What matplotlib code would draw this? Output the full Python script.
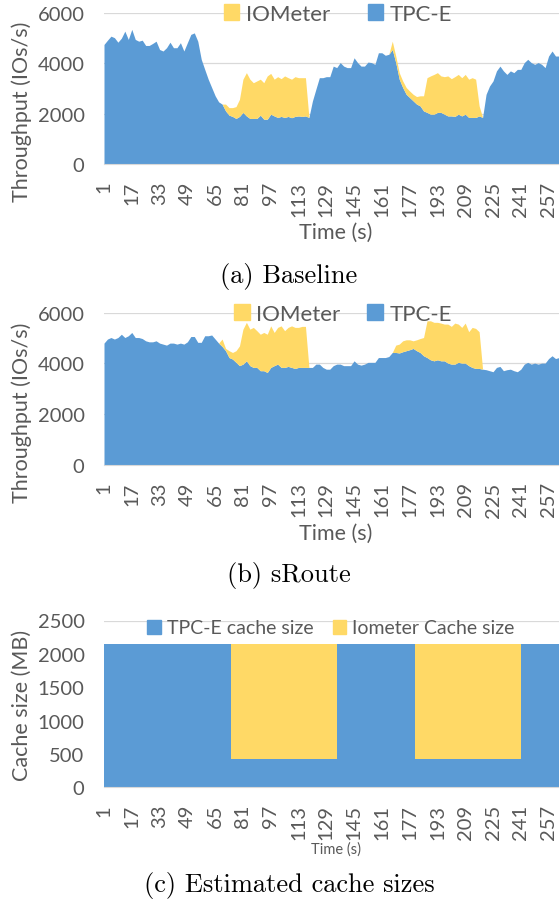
import numpy as np
import matplotlib
matplotlib.use("Agg")
import matplotlib.pyplot as plt
from matplotlib.patches import Patch

# time axis (s), read every 2 seconds off the picture
time_s = np.arange(1, 264, 2)

# (a) Baseline throughput, IOs/s
base_tpce = [4750, 4920, 5080, 5020, 4840, 5000, 5280, 4950, 5350, 4950,
             4880, 4920, 4710, 4710, 4790, 4880, 4550, 4490, 4620, 4840,
             4620, 4620, 4820, 4490, 4820, 5150, 5210, 4880, 4160, 3760,
             3370, 3040, 2710, 2470, 2380, 2110, 1940, 1890, 1810, 1890,
             2050, 1910, 1810, 1810, 1810, 1940, 1780, 1780, 1980, 1910,
             1850, 1890, 1850, 1890, 1840, 1890, 1910, 1890, 1910, 1850,
             2500, 2970, 3430, 3430, 3470, 3470, 3890, 3830, 4030, 3890,
             3830, 3830, 4220, 4030, 3890, 3890, 4050, 4030, 3960, 4420,
             4420, 4320, 4360, 4550, 4030, 3370, 3040, 2770, 2640, 2510,
             2380, 2310, 2110, 2050, 1980, 1980, 2050, 2050, 1980, 1910,
             1910, 1890, 1980, 1910, 1980, 1850, 1850, 1850, 1910, 1850,
             2770, 3100, 3300, 3700, 3890, 3700, 3560, 3700, 3630, 3760,
             3760, 4030, 4160, 4030, 3960, 4030, 3960, 3830, 4290, 4490,
             4290, 4290]
base_iometer = [0, 0, 0, 0, 0, 0, 0, 0, 0, 0,
                0, 0, 0, 0, 0, 0, 0, 0, 0, 0,
                0, 0, 0, 0, 0, 0, 0, 0, 0, 0,
                0, 0, 0, 0, 0, 270, 300, 350, 470, 680,
                1320, 1720, 1560, 1420, 1490, 1430, 1450, 1720, 1620, 1460,
                1620, 1500, 1650, 1540, 1530, 1580, 1520, 1540, 1520, 0,
                0, 0, 0, 0, 0, 0, 0, 0, 0, 0,
                0, 0, 0, 0, 0, 0, 0, 0, 0, 0,
                0, 0, 0, 330, 260, 260, 260, 270, 260, 260,
                300, 400, 600, 1380, 1520, 1580, 1580, 1450, 1490, 1590,
                1480, 1580, 1580, 1520, 1580, 1520, 1580, 1520, 400, 0,
                0, 0, 0, 0, 0, 0, 0, 0, 0, 0,
                0, 0, 0, 0, 0, 0, 0, 0, 0, 0,
                0, 0]

# (b) sRoute throughput, IOs/s
sroute_tpce = [4800, 4960, 5020, 4960, 5020, 5150, 5020, 5090, 5220, 5020,
               5020, 4980, 4890, 4850, 4850, 4890, 4800, 4760, 4720, 4800,
               4800, 4760, 4800, 4760, 4850, 5060, 5060, 4830, 4830, 5090,
               5090, 5120, 4960, 4800, 4670, 4500, 4230, 4170, 4040, 3910,
               3970, 4100, 3910, 3840, 3840, 3710, 3710, 3640, 3840, 3910,
               3970, 3840, 3840, 3880, 3840, 3800, 3840, 3840, 3840, 3840,
               3840, 3970, 3970, 3840, 3770, 3770, 3910, 3970, 3970, 3910,
               3910, 3910, 4100, 3970, 3930, 3970, 4040, 4040, 4040, 4230,
               4230, 4230, 4270, 4430, 4430, 4410, 4460, 4500, 4540, 4590,
               4500, 4430, 4300, 4230, 4140, 4100, 4140, 4100, 4100, 4010,
               3970, 3970, 4040, 4010, 4010, 3910, 3840, 3800, 3800, 3770,
               3750, 3710, 3670, 3840, 3880, 3710, 3750, 3770, 3710, 3670,
               3770, 3970, 4040, 3970, 4010, 3970, 4010, 4010, 4190, 4300,
               4190, 4230]
sroute_iometer = [0, 0, 0, 0, 0, 0, 0, 0, 0, 0,
                  0, 0, 0, 0, 0, 0, 0, 0, 0, 0,
                  0, 0, 0, 0, 0, 0, 0, 0, 0, 0,
                  0, 0, 0, 0, 290, 90, 270, 260, 460, 780,
                  1380, 1520, 1440, 1580, 1450, 1440, 1510, 1510, 1640, 1310,
                  1450, 1640, 1450, 1540, 1640, 1620, 1580, 1620, 1620, 0,
                  0, 0, 0, 0, 0, 0, 0, 0, 0, 0,
                  0, 0, 0, 0, 0, 0, 0, 0, 0, 0,
                  0, 0, 0, 0, 290, 350, 430, 430, 390, 300,
                  430, 550, 720, 1450, 1540, 1520, 1480, 1490, 1450, 1540,
                  1490, 1620, 1510, 1410, 1580, 1340, 1580, 1580, 1450, 0,
                  0, 0, 0, 0, 0, 0, 0, 0, 0, 0,
                  0, 0, 0, 0, 0, 0, 0, 0, 0, 0,
                  0, 0]

# (c) estimated cache sizes (MB), value holds from each time until the next
cache_time = [1, 74, 135, 180, 241, 263]
tpce_cache = [2150, 420, 2150, 420, 2150, 2150]
iometer_cache = [0, 1730, 0, 1730, 0, 0]

xticks = list(range(1, 258, 16))

BLUE = "#5B9BD5"
YELLOW = "#FFD966"
GREY = "#595959"
GRID = "#D9D9D9"

plt.rcParams["font.family"] = ["Lato", "DejaVu Sans"]

W, H = 559, 903
fig = plt.figure(figsize=(W / 100, H / 100), dpi=100)


def fx(px):
    return px / W


def fy(px):
    return 1 - px / H


def style_axes(ax, ymax, ystep):
    ax.set_xlim(1, 263)
    ax.set_ylim(0, ymax)
    ax.set_xticks(xticks)
    ax.set_xticklabels([str(t) for t in xticks], rotation=90)
    ax.set_yticks(np.arange(0, ymax + 1, ystep))
    ax.tick_params(axis="x", length=0, pad=12, labelsize=14.5, labelcolor=GREY)
    ax.tick_params(axis="y", length=0, pad=14, labelsize=14.5, labelcolor=GREY)
    ax.set_axisbelow(True)
    ax.grid(axis="y", color=GRID, lw=0.9)
    for s in ["top", "right", "left"]:
        ax.spines[s].set_visible(False)
    ax.spines["bottom"].set_color(GRID)


# ---- (a) Baseline
ax1 = fig.add_axes([fx(104), fy(165), 1 - fx(104), 151 / H])
b_t = np.array(base_tpce)
b_i = np.array(base_iometer)
ax1.fill_between(time_s, 0, b_t, color=BLUE, lw=0)
ax1.fill_between(time_s, b_t, b_t + b_i, color=YELLOW, lw=0)
style_axes(ax1, 6000, 2000)
ax1.set_ylabel("Throughput (IOs/s)", fontsize=15.5, color=GREY, va="center")
ax1.yaxis.set_label_coords(fx(22), fy(112), transform=fig.transFigure)
ax1.set_xlabel("Time (s)", fontsize=15.5, color=GREY, va="center")
ax1.xaxis.set_label_coords(fx(336), fy(233), transform=fig.transFigure)
fig.legend(handles=[Patch(color=YELLOW, label="IOMeter"), Patch(color=BLUE, label="TPC-E")],
           loc="center", bbox_to_anchor=(fx(338), fy(15)), ncol=2, frameon=False,
           fontsize=16, labelcolor=GREY, handlelength=0.7, handleheight=0.7,
           handletextpad=0.3, columnspacing=1.7, borderpad=0)
fig.text(fx(289), fy(276), "(a) Baseline", ha="center", va="center",
         family="cmr10", fontsize=19)

# ---- (b) sRoute
ax2 = fig.add_axes([fx(104), fy(465.7), 1 - fx(104), 152 / H])
s_t = np.array(sroute_tpce)
s_i = np.array(sroute_iometer)
ax2.fill_between(time_s, 0, s_t, color=BLUE, lw=0)
ax2.fill_between(time_s, s_t, s_t + s_i, color=YELLOW, lw=0)
style_axes(ax2, 6000, 2000)
ax2.set_ylabel("Throughput (IOs/s)", fontsize=15.5, color=GREY, va="center")
ax2.yaxis.set_label_coords(fx(22), fy(413), transform=fig.transFigure)
ax2.set_xlabel("Time (s)", fontsize=15.5, color=GREY, va="center")
ax2.xaxis.set_label_coords(fx(336), fy(534), transform=fig.transFigure)
fig.legend(handles=[Patch(color=YELLOW, label="IOMeter"), Patch(color=BLUE, label="TPC-E")],
           loc="center", bbox_to_anchor=(fx(343), fy(315)), ncol=2, frameon=False,
           fontsize=16, labelcolor=GREY, handlelength=0.7, handleheight=0.7,
           handletextpad=0.3, columnspacing=1.2, borderpad=0)
fig.text(fx(289), fy(576), "(b) sRoute", ha="center", va="center",
         family="cmr10", fontsize=19)

# ---- (c) cache sizes
ax3 = fig.add_axes([fx(104), fy(788.3), 1 - fx(104), 166.8 / H])
c_t = np.array(tpce_cache)
c_i = np.array(iometer_cache)
ax3.fill_between(cache_time, 0, c_t, step="post", color=BLUE, lw=0)
ax3.fill_between(cache_time, c_t, c_t + c_i, step="post", color=YELLOW, lw=0)
style_axes(ax3, 2500, 500)
ax3.set_ylabel("Cache size (MB)", fontsize=15.5, color=GREY, va="center")
ax3.yaxis.set_label_coords(fx(22), fy(705), transform=fig.transFigure)
ax3.set_xlabel("Time (s)", fontsize=10.5, color=GREY, va="center")
ax3.xaxis.set_label_coords(fx(336), fy(850), transform=fig.transFigure)
fig.legend(handles=[Patch(color=BLUE, label="TPC-E cache size"),
                    Patch(color=YELLOW, label="Iometer Cache size")],
           loc="center", bbox_to_anchor=(fx(331), fy(629)), ncol=2, frameon=False,
           fontsize=14, labelcolor=GREY, handlelength=0.7, handleheight=0.7,
           handletextpad=0.3, columnspacing=1.0, borderpad=0)
fig.text(fx(289), fy(886), "(c) Estimated cache sizes", ha="center", va="center",
         family="cmr10", fontsize=19)

fig.savefig("out.png", dpi=100)
